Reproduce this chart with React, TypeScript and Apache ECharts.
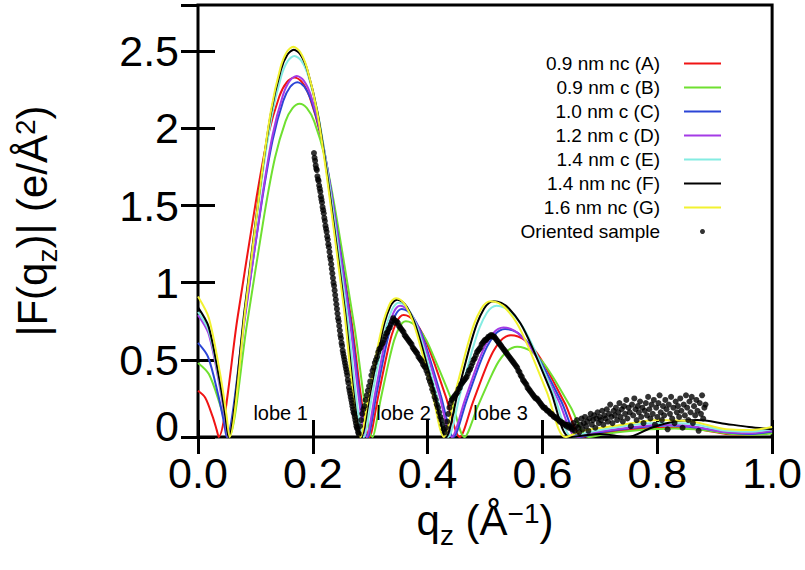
import { useEffect, useRef } from 'react';
import * as echarts from 'echarts';

const FONT = "'Liberation Sans', Arial, Helvetica, sans-serif";

const seriesNames = [
  '0.9 nm nc (A)',
  '0.9 nm c (B)',
  '1.0 nm c (C)',
  '1.2 nm c (D)',
  '1.4 nm c (E)',
  '1.4 nm nc (F)',
  '1.6 nm nc (G)',
];
const seriesColors = ['#f01414', '#6fe030', '#2b45d6', '#a43be6', '#84ece2', '#000000', '#f2f230'];
const sampleName = 'Oriented sample';

// model form factors |F(qz)|, [qz, |F|]
const curveA = [
  [0, 0.30], [0.0126, 0.255], [0.0252, 0.135], [0.0324, 0.048], [0.036, 0],
  [0.069, 0.776], [0.102, 1.554], [0.1218, 1.95], [0.1416, 2.207], [0.1548, 2.30], [0.168, 2.33],
  [0.1811, 2.30], [0.1942, 2.207], [0.2139, 1.95], [0.2335, 1.554], [0.2663, 0.776], [0.299, 0],
  [0.3138, 0.263], [0.3285, 0.527], [0.3374, 0.661], [0.3462, 0.748], [0.3521, 0.78], [0.358, 0.79],
  [0.3678, 0.78], [0.3776, 0.748], [0.3923, 0.661], [0.407, 0.527], [0.4315, 0.263], [0.456, 0],
  [0.4783, 0.22], [0.5005, 0.44], [0.5139, 0.552], [0.5272, 0.625], [0.5361, 0.651], [0.545, 0.66],
  [0.5575, 0.651], [0.57, 0.625], [0.5888, 0.552], [0.6075, 0.44], [0.6388, 0.22], [0.67, 0],
  [0.70, 0.025], [0.76, 0.05], [0.82, 0.06], [0.87, 0.05], [0.92, 0.02], [0.96, 0.015], [1, 0.03],
];
const curveB = [
  [0, 0.48], [0.0189, 0.408], [0.0378, 0.216], [0.0486, 0.077], [0.054, 0],
  [0.0848, 0.719], [0.1155, 1.441], [0.134, 1.808], [0.1524, 2.046], [0.1647, 2.132], [0.177, 2.16],
  [0.1897, 2.132], [0.2024, 2.046], [0.2215, 1.808], [0.2405, 1.441], [0.2723, 0.719], [0.304, 0],
  [0.3185, 0.25], [0.333, 0.50], [0.3417, 0.628], [0.3504, 0.71], [0.3562, 0.74], [0.362, 0.75],
  [0.3722, 0.74], [0.3824, 0.71], [0.3977, 0.628], [0.413, 0.50], [0.4405, 0.25], [0.464, 0],
  [0.487, 0.195], [0.51, 0.39], [0.5238, 0.49], [0.5376, 0.554], [0.5468, 0.577], [0.556, 0.585],
  [0.5684, 0.577], [0.5808, 0.554], [0.5994, 0.49], [0.618, 0.39], [0.649, 0.195], [0.68, 0],
  [0.71, 0.02], [0.77, 0.045], [0.83, 0.055], [0.88, 0.045], [0.93, 0.02], [0.97, 0.015], [1, 0.025],
];
const curveC = [
  [0, 0.61], [0.0175, 0.519], [0.035, 0.275], [0.045, 0.098], [0.05, 0],
  [0.0808, 0.766], [0.1115, 1.534], [0.13, 1.925], [0.1484, 2.178], [0.1607, 2.27], [0.173, 2.30],
  [0.1853, 2.27], [0.1976, 2.178], [0.2161, 1.925], [0.2345, 1.534], [0.2653, 0.766], [0.296, 0],
  [0.3108, 0.276], [0.3255, 0.554], [0.3344, 0.695], [0.3432, 0.786], [0.3491, 0.819], [0.355, 0.83],
  [0.364, 0.819], [0.373, 0.786], [0.3865, 0.695], [0.40, 0.554], [0.4225, 0.276], [0.445, 0],
  [0.4675, 0.233], [0.49, 0.467], [0.5035, 0.586], [0.517, 0.663], [0.526, 0.691], [0.535, 0.70],
  [0.548, 0.691], [0.561, 0.663], [0.5805, 0.586], [0.60, 0.467], [0.6325, 0.233], [0.665, 0],
  [0.70, 0.03], [0.76, 0.06], [0.82, 0.075], [0.87, 0.06], [0.92, 0.03], [0.96, 0.02], [1, 0.035],
];
const curveD = [
  [0, 0.79], [0.0182, 0.672], [0.0364, 0.356], [0.0468, 0.126], [0.052, 0],
  [0.082, 0.779], [0.112, 1.561], [0.13, 1.959], [0.148, 2.216], [0.16, 2.31], [0.172, 2.34],
  [0.1842, 2.31], [0.1964, 2.216], [0.2147, 1.959], [0.233, 1.561], [0.2635, 0.779], [0.294, 0],
  [0.3085, 0.283], [0.323, 0.567], [0.3317, 0.711], [0.3404, 0.805], [0.3462, 0.839], [0.352, 0.85],
  [0.361, 0.839], [0.37, 0.805], [0.3835, 0.711], [0.397, 0.567], [0.4195, 0.283], [0.442, 0],
  [0.4645, 0.236], [0.487, 0.474], [0.5005, 0.594], [0.514, 0.672], [0.523, 0.701], [0.532, 0.71],
  [0.5448, 0.701], [0.5576, 0.672], [0.5768, 0.594], [0.596, 0.474], [0.628, 0.236], [0.66, 0],
  [0.69, 0.03], [0.75, 0.06], [0.81, 0.08], [0.86, 0.07], [0.92, 0.03], [0.96, 0.025], [1, 0.04],
];
const curveE = [
  [0, 0.81], [0.0186, 0.689], [0.0371, 0.365], [0.0477, 0.13], [0.053, 0],
  [0.0818, 0.823], [0.1105, 1.647], [0.1278, 2.067], [0.145, 2.339], [0.1565, 2.438], [0.168, 2.47],
  [0.1801, 2.438], [0.1922, 2.339], [0.2104, 2.067], [0.2285, 1.647], [0.2588, 0.823], [0.289, 0],
  [0.3043, 0.29], [0.3195, 0.58], [0.3287, 0.728], [0.3378, 0.824], [0.3439, 0.859], [0.35, 0.87],
  [0.3586, 0.859], [0.3672, 0.824], [0.3801, 0.728], [0.393, 0.58], [0.4145, 0.29], [0.436, 0],
  [0.457, 0.283], [0.478, 0.567], [0.4906, 0.711], [0.5032, 0.805], [0.5116, 0.839], [0.52, 0.85],
  [0.5332, 0.839], [0.5464, 0.805], [0.5662, 0.711], [0.586, 0.567], [0.619, 0.283], [0.652, 0],
  [0.68, 0.03], [0.74, 0.07], [0.80, 0.09], [0.86, 0.085], [0.92, 0.04], [0.96, 0.035], [1, 0.05],
];
const curveF = [
  [0, 0.84], [0.0186, 0.714], [0.0371, 0.378], [0.0477, 0.134], [0.053, 0],
  [0.0815, 0.836], [0.110, 1.674], [0.1271, 2.101], [0.1442, 2.377], [0.1556, 2.477], [0.167, 2.51],
  [0.1788, 2.477], [0.1906, 2.377], [0.2083, 2.101], [0.226, 1.674], [0.2555, 0.836], [0.285, 0],
  [0.3005, 0.296], [0.316, 0.594], [0.3253, 0.745], [0.3346, 0.843], [0.3408, 0.878], [0.347, 0.89],
  [0.3555, 0.878], [0.364, 0.843], [0.3768, 0.745], [0.3895, 0.594], [0.4108, 0.296], [0.432, 0],
  [0.4528, 0.293], [0.4735, 0.587], [0.486, 0.737], [0.4984, 0.833], [0.5067, 0.869], [0.515, 0.88],
  [0.5283, 0.869], [0.5416, 0.833], [0.5616, 0.737], [0.5815, 0.587], [0.6148, 0.293], [0.648, 0],
  [0.70, 0.02], [0.748, 0], [0.79, 0.06], [0.83, 0.10], [0.87, 0.11], [0.92, 0.085], [0.96, 0.065], [1, 0.05],
];
const curveG = [
  [0, 0.91], [0.019, 0.77], [0.0385, 0.41], [0.0495, 0.146], [0.055, 0],
  [0.0828, 0.843], [0.1105, 1.687], [0.1272, 2.118], [0.1438, 2.396], [0.1549, 2.497], [0.166, 2.53],
  [0.1777, 2.497], [0.1894, 2.396], [0.207, 2.118], [0.2245, 1.687], [0.2538, 0.843], [0.283, 0],
  [0.2985, 0.30], [0.314, 0.60], [0.3233, 0.753], [0.3326, 0.852], [0.3388, 0.888], [0.345, 0.90],
  [0.3533, 0.888], [0.3616, 0.852], [0.374, 0.753], [0.3865, 0.60], [0.4073, 0.30], [0.428, 0],
  [0.4485, 0.293], [0.469, 0.587], [0.4813, 0.737], [0.4936, 0.833], [0.5018, 0.869], [0.51, 0.88],
  [0.523, 0.869], [0.536, 0.833], [0.5555, 0.737], [0.575, 0.587], [0.6075, 0.293], [0.64, 0],
  [0.67, 0.04], [0.74, 0.08], [0.80, 0.11], [0.86, 0.10], [0.92, 0.05], [0.96, 0.045], [1, 0.065],
];
const curves = [curveA, curveB, curveC, curveD, curveE, curveF, curveG];

// oriented sample: |F| read at regularly spaced qz
const sample1Start = 0.202;
const sample1Step = 0.001;
const sample1F = [
  1.84, 1.81, 1.79, 1.76, 1.74, 1.73, 1.69, 1.67, 1.66, 1.63,
  1.61, 1.59, 1.56, 1.54, 1.52, 1.49, 1.47, 1.45, 1.42, 1.40,
  1.37, 1.35, 1.33, 1.30, 1.28, 1.25, 1.23, 1.20, 1.17, 1.15,
  1.12, 1.09, 1.06, 1.03, 1.00, 0.98, 0.95, 0.92, 0.89, 0.86,
  0.83, 0.80, 0.77, 0.75, 0.72, 0.69, 0.66, 0.64, 0.61, 0.59,
  0.56, 0.54, 0.52, 0.50, 0.48, 0.46, 0.44, 0.42, 0.40, 0.37,
  0.35, 0.32, 0.30, 0.28, 0.26, 0.24, 0.22, 0.20, 0.18, 0.16,
  0.15, 0.13, 0.11, 0.09, 0.07, 0.06, 0.05, 0.03, 0.02,
];
const sample2Start = 0.282;
const sample2Step = 0.002;
const sample2F = [
  0.07, 0.11, 0.15, 0.18, 0.20, 0.24, 0.27, 0.30, 0.33, 0.36,
  0.40, 0.43, 0.45, 0.48, 0.50, 0.52, 0.55, 0.57, 0.58, 0.60,
  0.61, 0.63, 0.65, 0.67, 0.68, 0.70, 0.71, 0.73, 0.75, 0.77,
  0.76, 0.74, 0.75, 0.74, 0.72, 0.71, 0.70, 0.69, 0.68, 0.66,
  0.65, 0.64, 0.63, 0.62, 0.61, 0.60, 0.58, 0.57, 0.56, 0.55,
  0.54, 0.52, 0.51, 0.50, 0.49, 0.47, 0.46, 0.45, 0.43, 0.41,
  0.38, 0.36, 0.34, 0.31, 0.29, 0.26, 0.24, 0.21, 0.19, 0.16,
  0.13, 0.11, 0.08, 0.05, 0.03,
];
const sample3Start = 0.432;
const sample3Step = 0.002;
const sample3F = [
  0.06, 0.10, 0.15, 0.19, 0.22, 0.24, 0.25, 0.26, 0.27, 0.28,
  0.29, 0.31, 0.32, 0.34, 0.35, 0.36, 0.37, 0.38, 0.39, 0.41,
  0.43, 0.44, 0.46, 0.48, 0.50, 0.51, 0.53, 0.55, 0.56, 0.57,
  0.58, 0.60, 0.61, 0.62, 0.63, 0.63, 0.64, 0.65, 0.65, 0.66,
  0.66, 0.65, 0.65, 0.64, 0.63, 0.62, 0.61, 0.60, 0.59, 0.58,
  0.57, 0.56, 0.55, 0.54, 0.53, 0.52, 0.51, 0.50, 0.49, 0.48,
  0.47, 0.46, 0.45, 0.43, 0.42, 0.40, 0.39, 0.37, 0.36, 0.35,
  0.34, 0.32, 0.31, 0.30, 0.29, 0.28, 0.27, 0.26, 0.25, 0.25,
  0.24, 0.23, 0.22, 0.21, 0.20, 0.19, 0.19, 0.18, 0.17, 0.17,
  0.16, 0.15, 0.15, 0.14, 0.13, 0.13, 0.12, 0.12, 0.11, 0.10,
  0.10, 0.09, 0.09, 0.08, 0.08, 0.07, 0.08, 0.06, 0.07, 0.06,
];
const sample4Start = 0.652;
const sample4Step = 0.002;
const sample4F = [
  0.05, 0.09, 0.04, 0.07, 0.11, 0.06, 0.03, 0.08, 0.12, 0.05,
  0.09, 0.13, 0.07, 0.10, 0.04, 0.12, 0.15, 0.08, 0.11, 0.14,
  0.06, 0.12, 0.16, 0.09, 0.13, 0.11, 0.17, 0.08, 0.14, 0.12,
  0.18, 0.10, 0.15, 0.21, 0.13, 0.09, 0.17, 0.14, 0.19, 0.11,
  0.16, 0.22, 0.13, 0.18, 0.10, 0.20, 0.15, 0.24, 0.12, 0.19,
  0.16, 0.07, 0.21, 0.14, 0.25, 0.18, 0.11, 0.20, 0.16, 0.23,
  0.13, 0.19, 0.09, 0.17, 0.22, 0.14, 0.26, 0.18, 0.12, 0.21,
  0.15, 0.24, 0.08, 0.19, 0.13, 0.22, 0.27, 0.16, 0.11, 0.20,
  0.14, 0.24, 0.18, 0.05, 0.21, 0.15, 0.26, 0.12, 0.19, 0.09,
  0.23, 0.16, 0.20, 0.13, 0.25, 0.17, 0.06, 0.21, 0.14, 0.27,
  0.19, 0.11, 0.23, 0.16, 0.26, 0.09, 0.20, 0.14, 0.24, 0.17,
  0.04, 0.22, 0.15, 0.27, 0.12, 0.19, 0.21,
];

const lobeLabels = ['lobe 1', 'lobe 2', 'lobe 3'];
const lobeLabelAt = [[0.144, 0.155], [0.358, 0.155], [0.527, 0.155]];

const xTickValues = [0, 0.2, 0.4, 0.6, 0.8, 1.0];

function buildSample(start: number, step: number, values: number[]) {
  return values.map((f, i) => [Number((start + i * step).toFixed(4)), f]);
}

export default function App() {
  const ref = useRef<HTMLDivElement>(null);
  useEffect(() => {
    if (!ref.current) return;
    const chart = echarts.init(ref.current, undefined, { renderer: 'svg' });
    const sampleData = [
      ...buildSample(sample1Start, sample1Step, sample1F),
      ...buildSample(sample2Start, sample2Step, sample2F),
      ...buildSample(sample3Start, sample3Step, sample3F),
      ...buildSample(sample4Start, sample4Step, sample4F),
    ];
    const tickStyle = { inside: true, length: 17, lineStyle: { color: '#000', width: 3 } };
    const nameRich = {
      m: { fontSize: 42, fontFamily: FONT, color: '#000', verticalAlign: 'bottom', padding: [0, 0, 8, 0] },
      sub: { fontSize: 28, fontFamily: FONT, color: '#000', verticalAlign: 'bottom' },
      sup: { fontSize: 28, fontFamily: FONT, color: '#000', verticalAlign: 'top' },
    };
    const lineSeries = curves.map((c, i) => ({
      name: seriesNames[i],
      type: 'line',
      data: c,
      color: seriesColors[i],
      showSymbol: false,
      symbol: 'none',
      smooth: 0.3,
      lineStyle: { width: 2, color: seriesColors[i] },
      z: 2 + i,
    }));
    chart.setOption({
      animation: false,
      backgroundColor: '#ffffff',
      textStyle: { fontFamily: FONT },
      grid: { left: 198, right: 32, top: 5, bottom: 133, show: true, borderColor: '#000', borderWidth: 3, containLabel: false },
      xAxis: [
        {
          type: 'value', min: 0, max: 1, interval: 0.2, position: 'bottom',
          axisLine: { show: false }, splitLine: { show: false }, axisTick: tickStyle,
          axisLabel: {
            color: '#000', fontSize: 43, lineHeight: 33, fontFamily: FONT, margin: 19,
            formatter: (v: number) => (xTickValues.some((t) => Math.abs(t - v) < 1e-9) ? v.toFixed(1) : ''),
          },
          name: '{m|q}{sub|z}{m| (Å}{sup|−1}{m|)}',
          nameLocation: 'middle', nameGap: 62,
          nameTextStyle: { rich: nameRich },
        },
        {
          type: 'value', min: 0, max: 1, interval: 0.2, position: 'top',
          axisLine: { show: false }, splitLine: { show: false }, axisTick: tickStyle, axisLabel: { show: false },
        },
      ],
      yAxis: [
        {
          type: 'value', min: 0, max: 2.8, interval: 0.5, position: 'left',
          axisLine: { show: false }, splitLine: { show: false }, axisTick: tickStyle,
          axisLabel: {
            color: '#000', fontSize: 43, fontFamily: FONT, margin: 19, showMaxLabel: false,
            formatter: (v: number) => (v === 0 ? '{zero|0}' : String(v)),
            rich: { zero: { fontSize: 43, fontFamily: FONT, color: '#000', padding: [0, 0, 22, 0] } },
          },
          name: '{m||F(q}{sub|z}{m|)| (e/Å}{sup|2}{m|)}',
          nameLocation: 'middle', nameRotate: 90, nameGap: 137,
          nameTextStyle: { rich: nameRich },
        },
        {
          type: 'value', min: 0, max: 2.8, interval: 0.5, position: 'right',
          axisLine: { show: false }, splitLine: { show: false }, axisTick: tickStyle, axisLabel: { show: false },
        },
      ],
      legend: {
        orient: 'vertical', align: 'right', right: 84, top: 54, padding: 0, itemGap: 5,
        itemWidth: 37, itemHeight: 5, selectedMode: false,
        textStyle: { fontSize: 19, fontFamily: FONT, color: '#000', lineHeight: 18, padding: [0, 19, 0, 0] },
        data: [
          ...seriesNames.map((n) => ({ name: n, icon: 'path://M0,0H37V2H0Z' })),
          { name: sampleName, icon: 'circle' },
        ],
      },
      series: [
        ...lineSeries,
        {
          name: sampleName,
          type: 'scatter',
          data: sampleData,
          symbol: 'circle',
          symbolSize: 6,
          itemStyle: { color: '#000' },
          z: 20,
          markPoint: {
            symbol: 'circle',
            symbolSize: 1,
            itemStyle: { color: 'rgba(0,0,0,0)' },
            label: { show: true, position: 'inside', color: '#000', fontSize: 20, fontFamily: FONT, formatter: '{b}' },
            data: lobeLabels.map((t, i) => ({ name: t, coord: lobeLabelAt[i] })),
          },
        },
      ],
    });
    return () => chart.dispose();
  }, []);
  return <div ref={ref} style={{ position: 'fixed', left: 0, top: 0, width: 805, height: 570 }} />;
}
